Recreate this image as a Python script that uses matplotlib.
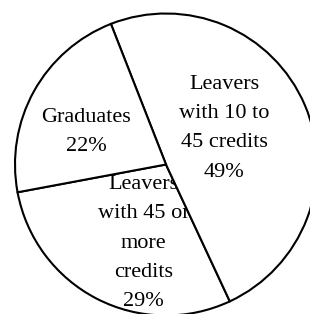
import matplotlib
matplotlib.use('Agg')
import matplotlib.pyplot as plt

# 데이터
labels = ['Leavers\nwith 10 to\n45 credits\n49%', 'Graduates\n22%', 'Leavers\nwith 45 or\nmore\ncredits\n29%']
shares = [49, 22, 29]
# 라벨 위치 (반지름 1 기준)
label_pos = [(0.385, 0.24), (-0.53, 0.217), (-0.15, -0.52)]

fig = plt.figure(figsize=(3.10, 3.14), dpi=100)
ax = fig.add_axes([0, 0, 1, 1])

wedges, _ = ax.pie(shares, startangle=-65, counterclock=True,
                   colors=['white'] * 3,
                   wedgeprops={'edgecolor': 'black', 'linewidth': 1.5})

# 29% 라벨은 49% 조각 밑으로 (경계선에서 잘리도록)
wedges[2].set_zorder(0.4)
z_text = [3, 3, 0.5]

for w, lab, (x, y), z in zip(wedges, labels, label_pos, z_text):
    ax.text(x, y, lab, ha='center', va='center', fontsize=16,
            family='Liberation Serif', linespacing=1.73, color='black', zorder=z)

ax.set_aspect('auto')
ax.set_xlim(-166 / 151, 144 / 151)
ax.set_ylim(-149.5 / 151, 164.5 / 151)
ax.axis('off')

fig.savefig('out.png', dpi=100, facecolor='white')
